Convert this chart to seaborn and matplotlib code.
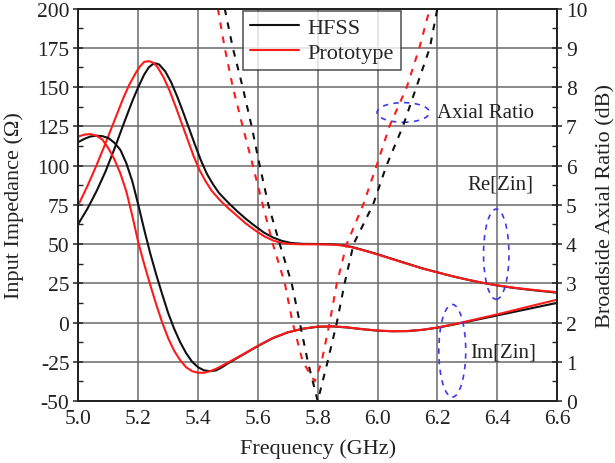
import numpy as np
import pandas as pd
import matplotlib
matplotlib.use("Agg")
import matplotlib.pyplot as plt
from matplotlib.patches import Ellipse
from matplotlib.ticker import MultipleLocator
import seaborn as sns

# ---------------- data ----------------
re_hfss_f = [5.00, 5.03, 5.06, 5.09, 5.12, 5.15, 5.18, 5.20, 5.22, 5.235, 5.25, 5.26, 5.27, 5.29,
             5.31, 5.33, 5.35, 5.37, 5.39, 5.41, 5.43, 5.45, 5.47, 5.50, 5.53, 5.56, 5.59, 5.62,
             5.65, 5.68, 5.71, 5.75, 5.80, 5.85, 5.88, 5.91, 5.94, 5.97, 6.00, 6.05, 6.10, 6.15,
             6.20, 6.25, 6.30, 6.35, 6.40, 6.45, 6.50, 6.55, 6.60]
re_hfss_v = [63, 72.5, 83.5, 96, 110.5, 126, 141, 150, 158, 162.5, 164.8, 165, 164.3, 160,
             153, 144, 134, 123.5, 113, 103, 94.5, 88, 82.5, 76.5, 71, 66, 61.5, 57.3,
             54.2, 52, 50.7, 50.1, 50, 49.8, 49.3, 48.3, 46.8, 45.2, 43.5, 40.5, 37.5, 34.5,
             32, 29.5, 27.3, 25.3, 23.6, 22.2, 21, 20, 19]

re_proto_f = [5.00, 5.03, 5.06, 5.09, 5.12, 5.15, 5.17, 5.19, 5.205, 5.22, 5.235, 5.25, 5.265,
              5.285, 5.305, 5.325, 5.345, 5.365, 5.385, 5.405, 5.425, 5.445, 5.475, 5.50, 5.53,
              5.56, 5.59, 5.62, 5.65, 5.68, 5.71, 5.75, 5.80, 5.85, 5.88, 5.91, 5.94, 5.97, 6.00,
              6.05, 6.10, 6.15, 6.20, 6.25, 6.30, 6.35, 6.40, 6.45, 6.50, 6.55, 6.60]
re_proto_v = [75, 87, 100, 114, 128.5, 143, 151.5, 158.5, 163, 166, 166.5, 165.5, 162.5,
              156, 147.5, 137.5, 127, 116.5, 106, 97, 90, 84, 77.5, 73, 68, 63,
              58.8, 55, 52.3, 50.6, 50, 49.8, 49.8, 49.6, 49.1, 48.1, 46.6, 45, 43.3,
              40.3, 37.3, 34.4, 31.9, 29.5, 27.3, 25.4, 23.7, 22.3, 21.2, 20.2, 19.3]

im_hfss_f = [5.00, 5.02, 5.04, 5.06, 5.08, 5.10, 5.12, 5.14, 5.16, 5.18, 5.20, 5.22, 5.24, 5.26,
             5.28, 5.30, 5.32, 5.34, 5.36, 5.38, 5.40, 5.42, 5.44, 5.46, 5.48, 5.50, 5.55, 5.60,
             5.65, 5.70, 5.75, 5.80, 5.85, 5.90, 5.95, 6.00, 6.05, 6.10, 6.15, 6.20, 6.25, 6.30,
             6.35, 6.40, 6.45, 6.50, 6.55, 6.60]
im_hfss_v = [115, 117, 118.5, 119, 118.7, 117.5, 114.5, 110, 101.5, 90, 75, 59, 44, 30.5,
             18, 6, -4, -12.5, -19.5, -25, -28.5, -30.5, -31, -30.5, -28.5, -26, -20.5, -15,
             -10, -6.3, -4, -2.7, -2.5, -3.2, -4.3, -5.2, -5.6, -5.5, -4.7, -3.3, -1.5, 0.5,
             2.5, 4.5, 6.5, 8.5, 10.5, 12.5]

im_proto_f = [5.00, 5.02, 5.04, 5.06, 5.08, 5.10, 5.12, 5.14, 5.16, 5.18, 5.20, 5.22, 5.24, 5.26,
              5.28, 5.30, 5.32, 5.34, 5.36, 5.38, 5.40, 5.42, 5.44, 5.46, 5.48, 5.50, 5.55, 5.60,
              5.65, 5.70, 5.75, 5.80, 5.85, 5.90, 5.95, 6.00, 6.05, 6.10, 6.15, 6.20, 6.25, 6.30,
              6.35, 6.40, 6.45, 6.50, 6.55, 6.60]
im_proto_v = [118.5, 119.7, 120, 119, 116.5, 111, 104, 95, 83.5, 68, 51, 37, 24, 11.5,
              0, -10, -18, -24, -28.5, -31, -32, -32, -31, -29.5, -27.5, -25.5, -20.3, -14.8,
              -9.8, -6.2, -3.9, -2.6, -2.4, -3.1, -4.2, -5.1, -5.5, -5.4, -4.6, -3.2, -1.3, 0.8,
              3, 5.2, 7.5, 9.9, 12.2, 14.5]

ar_hfss_f = [5.489, 5.516, 5.549, 5.579, 5.606, 5.635, 5.673, 5.713, 5.74, 5.767, 5.80,
             5.833, 5.864, 5.89, 5.92, 5.985, 6.03, 6.085, 6.13, 6.175, 6.20]
ar_hfss_v = [10, 9, 8, 7, 6, 5, 4, 3, 2, 1, 0, 1, 2, 3, 4, 5, 6, 7, 8, 9, 10]

ar_proto_f = [5.466, 5.489, 5.516, 5.549, 5.583, 5.616, 5.65, 5.69, 5.716, 5.75, 5.79,
              5.813, 5.84, 5.864, 5.897, 5.952, 5.997, 6.04, 6.098, 6.14, 6.175]
ar_proto_v = [10, 9, 8, 7, 6, 5, 4, 3, 2, 1, 0.5, 1, 2, 3, 4, 5, 6, 7, 8, 9, 10]

x_ticks = [5.0, 5.2, 5.4, 5.6, 5.8, 6.0, 6.2, 6.4, 6.6]
y_ticks = [-50, -25, 0, 25, 50, 75, 100, 125, 150, 175, 200]
y2_ticks = list(range(0, 11))

# ---------------- style ----------------
sns.set_style("white")
plt.rcParams['font.family'] = ['Liberation Serif', 'DejaVu Serif']
FS_TICK = 15.5
FS_LAB = 16
FS_ANN = 15

fig = plt.figure(figsize=(6.15, 4.64), dpi=100)
ax = fig.add_axes([0.1276, 0.1336, 0.7780, 0.8459])
ax2 = ax.twinx()

BLACK = '#111111'
RED = '#ff1a1a'
LW = 1.5

def df(f, v):
    return pd.DataFrame({'f': f, 'v': v})

sns.lineplot(data=df(re_hfss_f, re_hfss_v), x='f', y='v', ax=ax, color=BLACK, lw=LW, label='HFSS')
sns.lineplot(data=df(re_proto_f, re_proto_v), x='f', y='v', ax=ax, color=RED, lw=LW, label='Prototype')
sns.lineplot(data=df(im_hfss_f, im_hfss_v), x='f', y='v', ax=ax, color=BLACK, lw=LW, legend=False)
sns.lineplot(data=df(im_proto_f, im_proto_v), x='f', y='v', ax=ax, color=RED, lw=LW, legend=False)

dash = (0, (3.2, 3.6))
sns.lineplot(data=df(ar_hfss_f, ar_hfss_v), x='f', y='v', ax=ax2, color=BLACK, lw=LW,
             linestyle=dash, legend=False)
sns.lineplot(data=df(ar_proto_f, ar_proto_v), x='f', y='v', ax=ax2, color=RED, lw=LW,
             linestyle=dash, legend=False)

ax.set_xlim(5.0, 6.6)
ax.set_ylim(-50, 200)
ax2.set_ylim(0, 10)

ax.set_xticks(x_ticks)
ax.set_xticklabels([f"{t:.1f}" for t in x_ticks])
ax.set_yticks(y_ticks)
ax.set_yticklabels([str(t) for t in y_ticks])
ax2.set_yticks(y2_ticks)
ax.xaxis.set_minor_locator(MultipleLocator(0.1))
ax.yaxis.set_minor_locator(MultipleLocator(12.5))
ax2.yaxis.set_minor_locator(MultipleLocator(0.5))

ax.grid(True, which='major', color='#6a6a6a', lw=1.1)
ax.set_axisbelow(True)

for a in (ax, ax2):
    a.tick_params(which='major', direction='inout', length=7, width=1.1, labelsize=FS_TICK,
                  color='#222222', labelcolor='#222222')
    a.tick_params(which='minor', direction='in', length=3.5, width=1.0, color='#222222')
    for s in a.spines.values():
        s.set_color('#222222')
        s.set_linewidth(1.3)
ax.tick_params(axis='y', which='both', left=True, right=False, pad=3)
ax2.tick_params(axis='y', which='both', left=False, right=True, pad=3)
ax.tick_params(axis='x', pad=2)

ax.set_xlabel('Frequency (GHz)', fontsize=FS_LAB, labelpad=7.5, color='#222222')
ax.set_ylabel('Input Impedance (Ω)', fontsize=FS_LAB, labelpad=9, color='#222222')
ax2.set_ylabel('Broadside Axial Ratio (dB)', fontsize=FS_LAB, labelpad=6, color='#222222')

# annotation ellipses and labels
BLUE = '#3a3af0'
for (cx, cy, w, h) in [(6.086, 133.8, 0.175, 12.5), (6.397, 43.5, 0.085, 57.5), (6.25, -18.0, 0.09, 59.0)]:
    ax.add_patch(Ellipse((cx, cy), w, h, fill=False, edgecolor=BLUE, lw=1.2,
                         linestyle=(0, (3.2, 3.2)), zorder=5))
ax.text(6.198, 133.5, 'Axial Ratio', fontsize=FS_ANN, va='center', ha='left', color='#222222')
ax.text(6.41, 88, 'Re[Zin]', fontsize=FS_ANN, va='center', ha='center', color='#222222')
ax.text(6.31, -19, 'Im[Zin]', fontsize=FS_ANN, va='center', ha='left', color='#222222')

leg = ax.legend(loc='upper left', bbox_to_anchor=(0.344, 0.994), borderaxespad=0,
                fontsize=FS_LAB, frameon=True, fancybox=False, handlelength=2.2,
                handletextpad=0.4, borderpad=0.3, labelspacing=0.2)
leg.get_frame().set_edgecolor('#222222')
leg.get_frame().set_linewidth(1.1)
leg.set_zorder(10)

fig.savefig('out.png', dpi=100)
